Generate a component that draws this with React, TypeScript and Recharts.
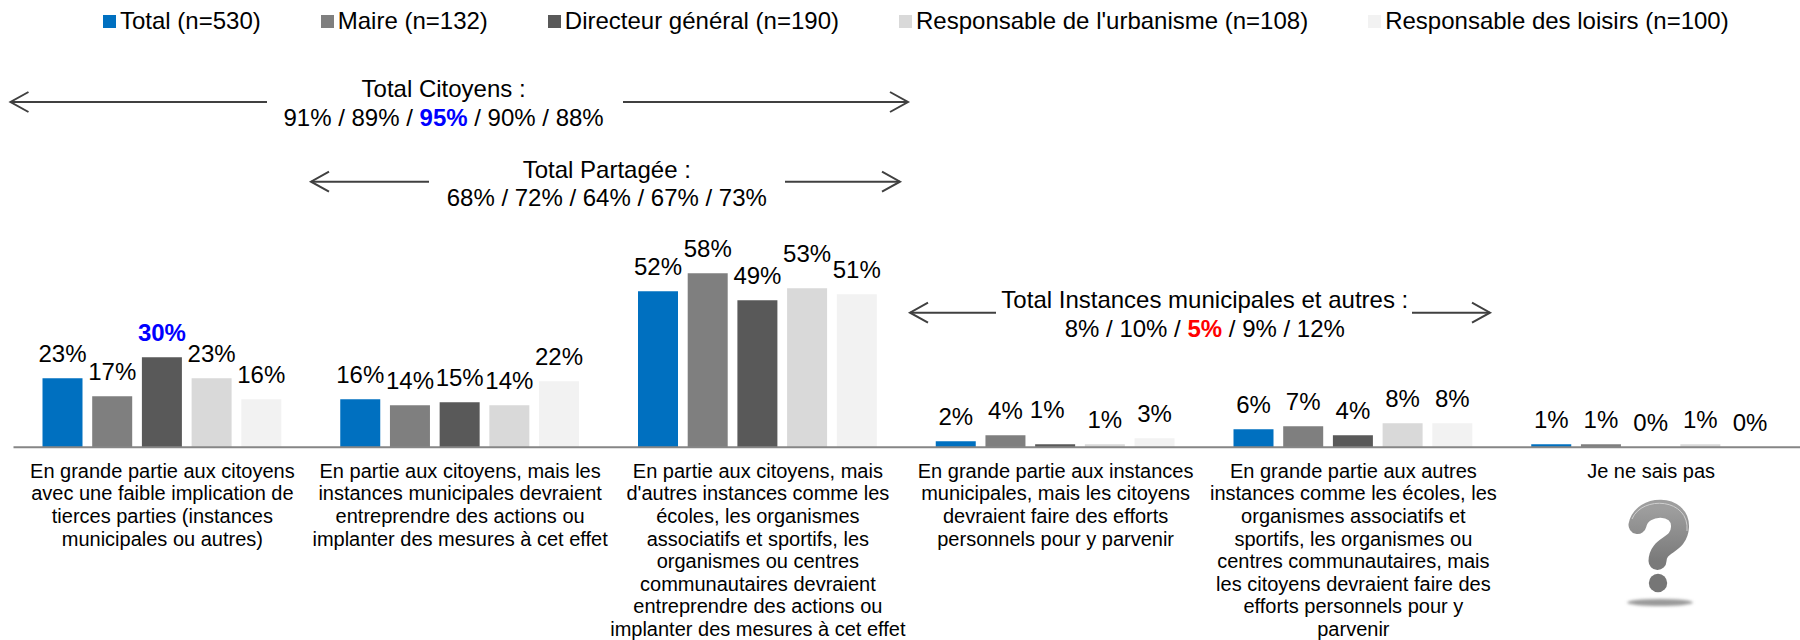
import { BarChart, Bar, XAxis, YAxis, Legend, LabelList } from "recharts";

const categories = [
  "En grande partie aux citoyens\navec une faible implication de\ntierces parties (instances\nmunicipales ou autres)",
  "En partie aux citoyens, mais les\ninstances municipales devraient\nentreprendre des actions ou\nimplanter des mesures à cet effet",
  "En partie aux citoyens, mais\nd'autres instances comme les\nécoles, les organismes\nassociatifs et sportifs, les\norganismes ou centres\ncommunautaires devraient\nentreprendre des actions ou\nimplanter des mesures à cet effet",
  "En grande partie aux instances\nmunicipales, mais les citoyens\ndevraient faire des efforts\npersonnels pour y parvenir",
  "En grande partie aux autres\ninstances comme les écoles, les\norganismes associatifs et\nsportifs, les organismes ou\ncentres communautaires, mais\nles citoyens devraient faire des\nefforts personnels pour y\nparvenir",
  "Je ne sais pas",
];

const total = [23, 16, 52, 2, 6, 1];
const maire = [17, 14, 58, 4, 7, 1];
const directeur = [30, 15, 49, 1, 4, 0];
const urbanisme = [23, 14, 53, 1, 8, 1];
const loisirs = [16, 22, 51, 3, 8, 0];

const chartData = categories.map((name, i) => ({
  name,
  total: total[i],
  maire: maire[i],
  directeur: directeur[i],
  urbanisme: urbanisme[i],
  loisirs: loisirs[i],
}));

const series = [
  { key: "total", name: "Total (n=530)", color: "#0070C0" },
  { key: "maire", name: "Maire (n=132)", color: "#7F7F7F" },
  { key: "directeur", name: "Directeur général (n=190)", color: "#595959" },
  { key: "urbanisme", name: "Responsable de l'urbanisme (n=108)", color: "#D9D9D9" },
  { key: "loisirs", name: "Responsable des loisirs (n=100)", color: "#F2F2F2" },
];

const FONT = "'Liberation Sans', Arial, sans-serif";

// a couple of labels were moved by hand in the original
const labelNudge: Record<string, { dx: number; dy: number }> = {
  "directeur:3": { dx: -8, dy: -10 },
  "urbanisme:2": { dx: 0, dy: -10 },
};

// tick with the line breaks of the original
function CategoryTick({ x, y, payload }: any) {
  const lines = String(payload.value).split("\n");
  return (
    <text x={x} textAnchor="middle" fontFamily={FONT} fontSize={20} fill="#000">
      {lines.map((l: string, i: number) => (
        <tspan key={i} x={x} y={y + i * 22.6}>
          {l}
        </tspan>
      ))}
    </text>
  );
}

function makeLabel(seriesKey: string) {
  return function BarLabel({ x, y, width, value, index }: any) {
    const hot = seriesKey === "directeur" && index === 0;
    const nudge = labelNudge[`${seriesKey}:${index}`] || { dx: 0, dy: 0 };
    return (
      <text
        x={x + width / 2 + nudge.dx}
        y={y - 16.5 + nudge.dy}
        textAnchor="middle"
        fontFamily={FONT}
        fontSize={24}
        fontWeight={hot ? "bold" : "normal"}
        fill={hot ? "#0000FF" : "#000"}
      >
        {value}%
      </text>
    );
  };
}

function LegendRow({ payload }: any) {
  return (
    <div style={{ display: "flex", fontFamily: FONT, fontSize: 24, color: "#000", lineHeight: "28px", whiteSpace: "nowrap" }}>
      {(payload || []).map((p: any) => (
        <div key={p.value} style={{ display: "flex", alignItems: "center", marginRight: 60 }}>
          <span style={{ width: 13, height: 13, background: p.color, marginRight: 4, display: "inline-block" }} />
          {p.value}
        </div>
      ))}
    </div>
  );
}

function Arrow({ x1, x2, y }: { x1: number; x2: number; y: number }) {
  // tip is at x2
  const d = x2 > x1 ? -18 : 18;
  return (
    <g fill="none" stroke="#404040" strokeWidth={2}>
      <line x1={x1} y1={y} x2={x2} y2={y} />
      <polyline points={`${x2 + d},${y - 10} ${x2},${y} ${x2 + d},${y + 10}`} />
    </g>
  );
}

function Note({ x, y1, y2, title, parts }: any) {
  return (
    <g fontFamily={FONT} fontSize={24} fill="#000" textAnchor="middle">
      <text x={x} y={y1}>{title}</text>
      <text x={x} y={y2}>
        {parts.map((p: any, i: number) => (
          <tspan key={i} fontWeight={p.color ? "bold" : "normal"} fill={p.color || "#000"}>
            {p.text}
          </tspan>
        ))}
      </text>
    </g>
  );
}

export default function App() {
  return (
    <div style={{ position: "absolute", left: 0, top: 0, width: 1800, height: 640, background: "#fff" }}>
      <BarChart
        width={1800}
        height={640}
        data={chartData}
        margin={{ top: 267.3, right: 0, bottom: 0, left: 13.5 }}
        barSize={40}
        barGap={9.7}
      >
        <Legend
          verticalAlign="middle"
          align="center"
          itemSorter={null}
          content={<LegendRow />}
          wrapperStyle={{ left: 103, top: 7, width: 1690 }}
        />
        <XAxis
          dataKey="name"
          height={192.7}
          interval={0}
          axisLine={{ stroke: "#868686", strokeWidth: 2 }}
          tickLine={false}
          tick={<CategoryTick />}
          tickMargin={24.5}
        />
        <YAxis hide domain={[0, 60]} />
        {series.map((s) => (
          <Bar key={s.key} dataKey={s.key} name={s.name} fill={s.color} minPointSize={0.01} isAnimationActive={false}>
            <LabelList dataKey={s.key} content={makeLabel(s.key)} />
          </Bar>
        ))}

        <Arrow x1={267} x2={10.5} y={102} />
        <Arrow x1={623} x2={908} y={102} />
        <Note
          x={443.6}
          y1={96.7}
          y2={126}
          title="Total Citoyens :"
          parts={[{ text: "91% / 89% / " }, { text: "95%", color: "#0000FF" }, { text: " / 90% / 88%" }]}
        />
        <Arrow x1={429} x2={311} y={181.7} />
        <Arrow x1={785} x2={900} y={181.7} />
        <Note
          x={606.8}
          y1={178}
          y2={206}
          title="Total Partagée :"
          parts={[{ text: "68% / 72% / 64% / 67% / 73%" }]}
        />
        <Arrow x1={996} x2={910} y={312.7} />
        <Arrow x1={1412} x2={1490} y={312.7} />
        <Note
          x={1204.8}
          y1={308}
          y2={337}
          title="Total Instances municipales et autres :"
          parts={[{ text: "8% / 10% / " }, { text: "5%", color: "#FF0000" }, { text: " / 9% / 12%" }]}
        />

        {/* question mark picture under the last category */}
        <defs>
          <linearGradient id="qm" x1="0" y1="0" x2="0" y2="1">
            <stop offset="0%" stopColor="#9E9E9E" />
            <stop offset="100%" stopColor="#7A7A7A" />
          </linearGradient>
          <filter id="qmBlur" x="-20%" y="-100%" width="140%" height="300%">
            <feGaussianBlur stdDeviation="1.6" />
          </filter>
        </defs>
        <ellipse cx={1660} cy={602.5} rx={33} ry={3.5} fill="#9A9A9A" filter="url(#qmBlur)" />
        <path
          d="M1637.5 525 C1642 503 1681 503 1680 527 C1679 547 1658 543 1657.5 561"
          fill="none"
          stroke="url(#qm)"
          strokeWidth={18}
          strokeLinecap="round"
        />
        <path d="M1632 519 C1642 495 1690 498 1687 531" fill="none" stroke="#CFCFCF" strokeWidth={1} />
        <circle cx={1658} cy={583} r={9.2} fill="#767676" />
      </BarChart>
    </div>
  );
}
